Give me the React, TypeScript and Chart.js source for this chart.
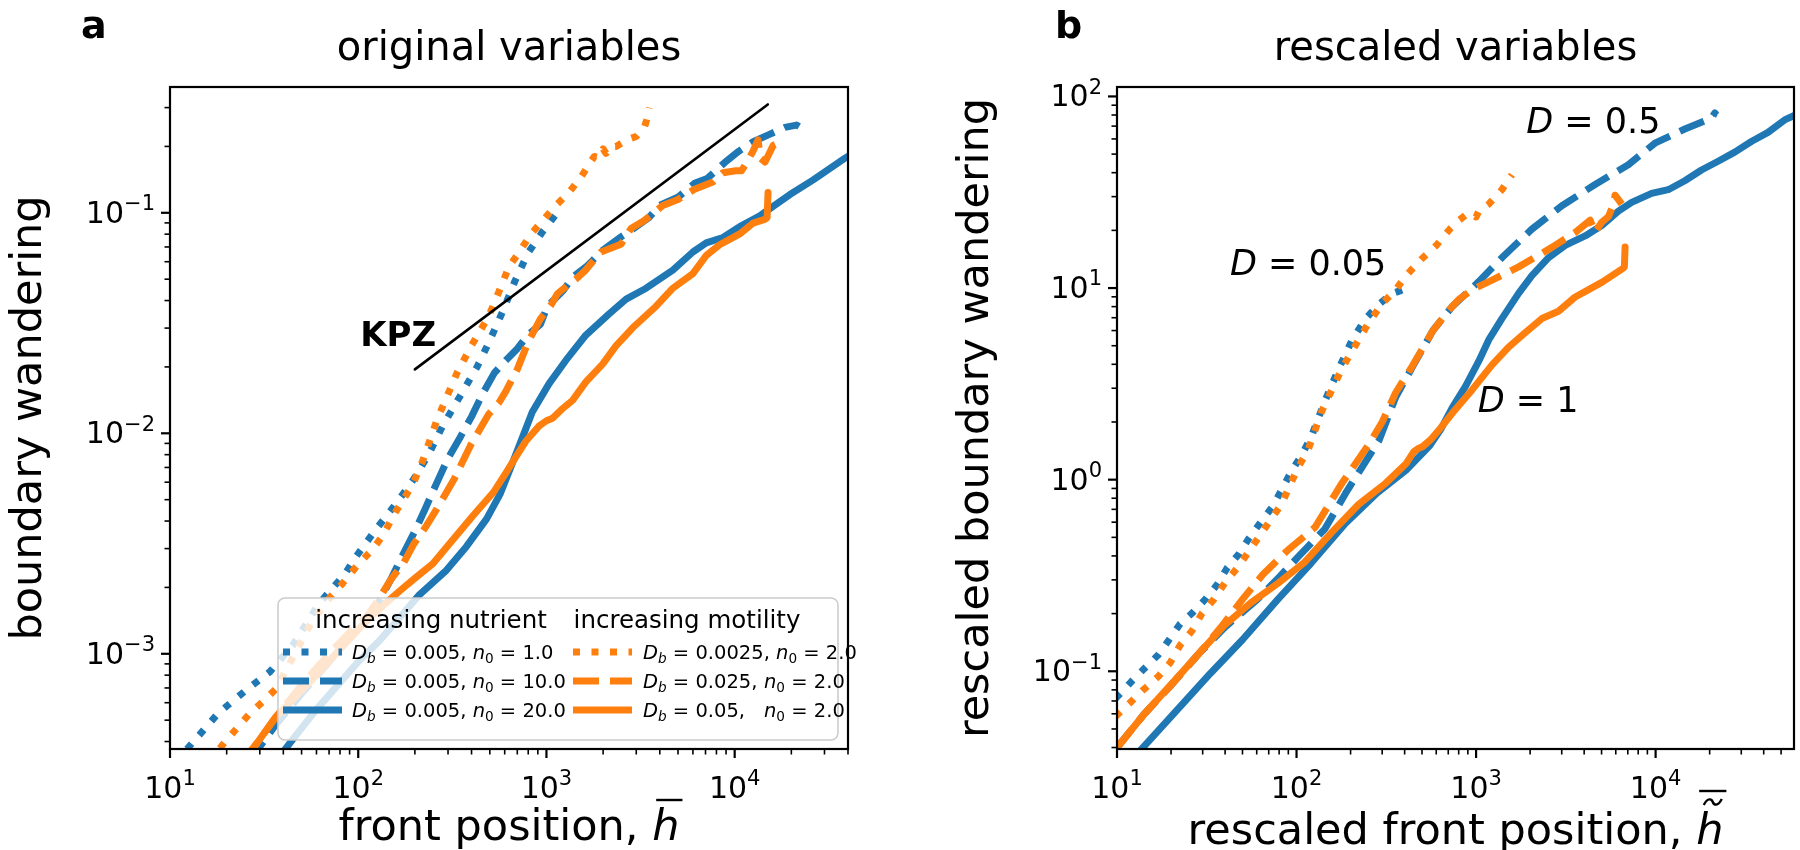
import React, { useEffect, useRef } from 'react';
import { Chart, registerables } from 'chart.js';

Chart.register(...registerables);

const BLUE = '#1f77b4';
const ORANGE = '#ff7f0e';
const FAM = '"DejaVu Sans", "Liberation Sans", sans-serif';
const LW = 7;
const DOT = [7, 11.5];
const DASH = [26, 11];

// ---------------- panel a: original variables ----------------
const aDotBlueX = [10.6, 13.2, 18.1, 25.7, 34, 45.1, 61.9, 84.9, 97.7, 120.7, 160, 197, 235, 281, 347, 428, 493, 588, 680, 800, 953, 1130];
const aDotBlueY = [3.2e-4, 3.96e-4, 5.39e-4, 6.91e-4, 8.3e-4, 1.1e-3, 1.69e-3, 2.3e-3, 2.77e-3, 3.55e-3, 4.84e-3, 6.19e-3, 7.93e-3, 1.08e-2, 1.47e-2, 2.0e-2, 2.57e-2, 3.6e-2, 0.049, 0.066, 0.082, 0.099];

const aDotOrangeX = [16, 19.4, 22.5, 26.5, 31.2, 36.8, 46, 57, 72.6, 82, 100, 119, 134.5, 158, 195, 220, 262, 335, 400, 493, 560, 632, 714, 826, 953, 1122, 1321, 1524, 1795, 1900, 2000, 2072, 2200, 2344, 2705, 3000, 3315, 3400, 3525];
const aDotOrangeY = [3.2e-4, 3.95e-4, 4.56e-4, 5.36e-4, 6.08e-4, 6.97e-4, 1.0e-3, 1.41e-3, 1.85e-3, 2.07e-3, 2.55e-3, 2.97e-3, 3.42e-3, 4.4e-3, 5.86e-3, 7.5e-3, 0.0115, 0.0188, 0.025, 0.0339, 0.044, 0.057, 0.066, 0.08, 0.092, 0.108, 0.124, 0.145, 0.18, 0.178, 0.195, 0.186, 0.2, 0.2, 0.215, 0.222, 0.245, 0.262, 0.3];

const aDashBlueX = [26, 36, 50, 70, 100, 129, 150, 171, 200, 227, 260, 300, 347, 400, 460, 529, 607, 700, 800, 929, 1012, 1230, 1376, 1630, 1988, 2500, 2860, 3500, 3981, 5020, 6120, 7140, 8850, 10500, 12530, 15000, 18470, 21300, 22000];
const aDashBlueY = [3.2e-4, 4.7e-4, 6.6e-4, 9.2e-4, 1.3e-3, 1.72e-3, 2.2e-3, 2.77e-3, 3.6e-3, 4.55e-3, 5.9e-3, 7.7e-3, 9.55e-3, 0.0119, 0.0152, 0.0188, 0.0214, 0.0242, 0.028, 0.0312, 0.0377, 0.0445, 0.051, 0.057, 0.0676, 0.078, 0.084, 0.095, 0.108, 0.118, 0.136, 0.143, 0.169, 0.19, 0.21, 0.225, 0.244, 0.25, 0.246];

const aDashOrangeX = [24, 30, 38, 50, 70, 90, 112, 130, 149, 175, 197, 230, 262, 323, 399, 493, 560, 608, 700, 800, 929, 1054, 1146, 1300, 1433, 1600, 1948, 2485, 2812, 3296, 4150, 5000, 6120, 7660, 8670, 10140, 10860, 11540, 12500, 13310, 13700, 14500, 16000, 16600];
const aDashOrangeY = [3.2e-4, 4.1e-4, 5.4e-4, 7.2e-4, 1.0e-3, 1.25e-3, 1.49e-3, 1.8e-3, 2.17e-3, 2.6e-3, 3.14e-3, 3.8e-3, 4.55e-3, 6.19e-3, 8.97e-3, 0.0122, 0.0138, 0.0155, 0.0195, 0.026, 0.033, 0.038, 0.043, 0.047, 0.05, 0.0545, 0.0664, 0.072, 0.0848, 0.092, 0.108, 0.115, 0.128, 0.138, 0.152, 0.155, 0.155, 0.168, 0.19, 0.214, 0.177, 0.17, 0.202, 0.205];

const aSolidBlueX = [36, 45, 60, 80, 100, 130, 158, 211, 294, 376, 481, 567, 687, 841, 1033, 1267, 1620, 2160, 2650, 3385, 4693, 5998, 7060, 8665, 10640, 13600, 15380, 19650, 26140, 38550, 42000];
const aSolidBlueY = [3.2e-4, 4.1e-4, 5.6e-4, 7.4e-4, 9.2e-4, 1.15e-3, 1.39e-3, 1.85e-3, 2.39e-3, 3.07e-3, 4.09e-3, 5.3e-3, 8.0e-3, 0.0125, 0.0168, 0.0214, 0.0279, 0.0349, 0.0406, 0.0455, 0.055, 0.0664, 0.073, 0.0773, 0.0865, 0.0968, 0.1045, 0.121, 0.141, 0.177, 0.185];

const aSolidOrangeX = [24.5, 30, 36, 45, 60, 80, 109, 135, 165, 200, 249, 319, 408, 523, 608, 700, 776, 915, 1000, 1077, 1200, 1376, 1620, 1988, 2340, 2872, 3825, 4693, 5998, 7060, 8320, 10640, 12530, 14450, 14870, 15040];
const aSolidOrangeY = [3.2e-4, 4.1e-4, 5.1e-4, 6.2e-4, 8.0e-4, 1.05e-3, 1.39e-3, 1.65e-3, 1.92e-3, 2.2e-3, 2.56e-3, 3.3e-3, 4.24e-3, 5.4e-3, 6.6e-3, 8.0e-3, 9.2e-3, 0.0108, 0.0114, 0.0117, 0.0128, 0.0141, 0.0171, 0.0206, 0.0249, 0.0301, 0.0377, 0.0455, 0.053, 0.064, 0.0716, 0.0802, 0.0898, 0.0933, 0.095, 0.1236];

const kpzX = [200, 15000];
const kpzY = [0.0195, 0.31];

// ---------------- panel b: rescaled variables ----------------
const bDotBlueX = [9.8, 12.0, 14.3, 17.0, 19.8, 22.5, 26.2, 31.1, 36.2, 41.2, 48.0, 54.6, 63.5, 73.9, 82.4, 93.8, 106.7, 121, 144, 172, 204, 243, 288, 343, 380, 398];
const bDotBlueY = [0.072, 0.0881, 0.104, 0.122, 0.149, 0.177, 0.201, 0.238, 0.284, 0.348, 0.412, 0.498, 0.603, 0.728, 0.881, 1.11, 1.34, 1.68, 2.58, 3.8, 5.36, 6.93, 8.24, 9.38, 9.7, 9.87];

const bDotOrangeX = [9.8, 11.8, 14.0, 17.0, 19.8, 22.5, 26.2, 29.8, 34.7, 40.4, 47.0, 62.2, 82.4, 102, 116, 138, 179, 250, 300, 357, 407, 494, 601, 714, 800, 910, 1000, 1035, 1176, 1393, 1585];
const bDotOrangeY = [0.058, 0.0684, 0.08, 0.094, 0.111, 0.137, 0.163, 0.201, 0.238, 0.294, 0.348, 0.508, 0.744, 1.16, 1.43, 2.27, 3.8, 6.5, 8.3, 9.8, 11.6, 14.1, 16.7, 20.3, 22.5, 24.7, 23.5, 25.2, 27.4, 32.6, 39];

const bDashBlueX = [9.8, 14, 20, 28, 40, 60.8, 80, 102, 144, 187, 230, 288, 357, 444, 575, 736, 1035, 1393, 2046, 3006, 4603, 7050, 9910, 14550, 20460, 21380, 21800];
const bDashBlueY = [0.039, 0.059, 0.0845, 0.121, 0.17, 0.238, 0.31, 0.395, 0.554, 0.845, 1.15, 1.6, 2.7, 3.9, 6.0, 8.0, 10.8, 14.4, 20.3, 26.9, 34.7, 44.0, 57.0, 67.6, 76.9, 82, 80];

const bDashOrangeX = [9.8, 14, 20, 28, 37.8, 50.1, 64.9, 89.7, 127, 179, 253, 300, 357, 444, 575, 700, 800, 950, 1227, 1726, 2643, 3563, 4318, 4603, 5000, 5460, 5800, 5946, 6200, 6476];
const bDashOrangeY = [0.039, 0.059, 0.0845, 0.121, 0.169, 0.238, 0.32, 0.43, 0.565, 0.959, 1.53, 2.0, 2.85, 3.95, 6.0, 7.6, 8.7, 9.8, 11.0, 12.9, 16.3, 19.5, 22.6, 19.5, 22.0, 23.6, 27, 30.5, 29, 27.4];

const bSolidBlueX = [13.2, 20, 33.3, 50, 78.9, 120, 187, 280, 407, 551, 640, 736, 873, 1035, 1176, 1393, 1725, 2046, 2533, 3137, 4050, 5012, 6204, 7356, 9500, 11760, 14550, 18010, 22300, 27600, 34140, 42270, 52300, 60000];
const bSolidBlueY = [0.0378, 0.058, 0.098, 0.146, 0.238, 0.365, 0.59, 0.85, 1.12, 1.5, 1.85, 2.37, 3.07, 4.15, 5.36, 6.93, 9.38, 11.6, 14.4, 16.7, 18.7, 21.2, 25.2, 28.0, 31.2, 32.6, 36.3, 41.3, 45.9, 51.2, 58.2, 64.9, 75.4, 80];

const bSolidOrangeX = [9.8, 14.0, 19.8, 28.0, 39.5, 55.8, 78.9, 111, 157, 222, 314, 407, 450, 480, 505, 560, 640, 736, 950, 1227, 1518, 1879, 2326, 2878, 3563, 4045, 5012, 5946, 6607, 6700, 6760];
const bSolidOrangeY = [0.039, 0.059, 0.0845, 0.121, 0.173, 0.228, 0.288, 0.371, 0.531, 0.744, 0.959, 1.21, 1.4, 1.46, 1.49, 1.62, 1.88, 2.22, 2.94, 3.97, 4.92, 5.85, 6.93, 7.57, 8.98, 9.57, 10.7, 11.9, 12.7, 12.9, 16.4];

// ---------------- legend text ----------------
const legendTitles = ['increasing nutrient', 'increasing motility'];
const nutrientDb = ['0.005', '0.005', '0.005'];
const nutrientN0 = ['1.0', '10.0', '20.0'];
const motilityDb = ['0.0025', '0.025', '0.05'];
const motilityN0 = ['2.0', '2.0', '2.0'];

type Run = { t: string; font: string; dy?: number };

function font(size: number, style = ''): string {
  return `${style ? style + ' ' : ''}${size}px ${FAM}`;
}

function runsWidth(ctx: CanvasRenderingContext2D, runs: Run[]): number {
  let w = 0;
  for (const r of runs) {
    ctx.font = r.font;
    w += ctx.measureText(r.t).width;
  }
  return w;
}

function drawRuns(ctx: CanvasRenderingContext2D, runs: Run[], x: number, y: number, align: 'left' | 'center' | 'right' = 'left'): number[] {
  const w = runsWidth(ctx, runs);
  let cx = align === 'left' ? x : align === 'center' ? x - w / 2 : x - w;
  ctx.textAlign = 'left';
  ctx.textBaseline = 'alphabetic';
  const starts: number[] = [];
  for (const r of runs) {
    ctx.font = r.font;
    starts.push(cx);
    ctx.fillText(r.t, cx, y + (r.dy || 0));
    cx += ctx.measureText(r.t).width;
  }
  starts.push(cx);
  return starts;
}

function pow10Runs(e: number, size: number): Run[] {
  const sup = e < 0 ? '\u2212' + String(-e) : String(e);
  return [
    { t: '10', font: font(size) },
    { t: sup, font: font(size * 0.7), dy: -size * 0.42 },
  ];
}

function eqRuns(sym: string, sub: string, val: string, size: number): Run[] {
  const runs: Run[] = [{ t: sym, font: font(size, 'italic') }];
  if (sub) runs.push({ t: sub, font: font(size * 0.7, /[0-9]/.test(sub) ? '' : 'italic'), dy: size * 0.22 });
  runs.push({ t: ' = ' + val, font: font(size) });
  return runs;
}

function pts(xs: number[], ys: number[]) {
  return xs.map((x, i) => ({ x, y: ys[i] }));
}

function ds(label: string, xs: number[], ys: number[], color: string, dash: number[], order: number, width = LW) {
  return {
    label,
    data: pts(xs, ys),
    borderColor: color,
    backgroundColor: color,
    borderWidth: width,
    borderDash: dash,
    borderCapStyle: dash.length ? 'butt' : 'round',
    borderJoinStyle: 'round',
    pointRadius: 0,
    pointHoverRadius: 0,
    tension: 0,
    fill: false,
    order,
  };
}

type Annot = { x: number; y: number; runs: Run[] };

type Panel = {
  offset: number;
  letter: string;
  letterX: number;
  title: string;
  yLabel: string;
  yLabelX: number;
  xPrefix: string;
  tilde: boolean;
  xLabelY: number;
  annots: Annot[];
  legend: boolean;
};

const TICK_FS = 30;

function drawLegend(ctx: CanvasRenderingContext2D, off: number) {
  const x0 = 278 - off, y0 = 598, w = 560, h = 142;
  ctx.save();
  ctx.setLineDash([]);
  ctx.beginPath();
  (ctx as any).roundRect(x0, y0, w, h, 7);
  ctx.fillStyle = 'rgba(255,255,255,0.8)';
  ctx.fill();
  ctx.strokeStyle = '#cccccc';
  ctx.lineWidth = 1.6;
  ctx.stroke();

  ctx.fillStyle = '#000';
  ctx.font = font(24.5);
  ctx.textAlign = 'center';
  ctx.textBaseline = 'alphabetic';
  ctx.fillText(legendTitles[0], 431 - off, 628);
  ctx.fillText(legendTitles[1], 687 - off, 628);

  const rowsY = [652, 681, 710];
  const styles = [DOT, DASH, [] as number[]];
  const fs = 19.5;
  for (let i = 0; i < 3; i++) {
    const cy = rowsY[i];
    ctx.lineWidth = LW;
    ctx.lineCap = 'butt';
    ctx.setLineDash(styles[i]);
    ctx.strokeStyle = BLUE;
    ctx.beginPath();
    ctx.moveTo(283 - off, cy);
    ctx.lineTo(342 - off, cy);
    ctx.stroke();
    ctx.strokeStyle = ORANGE;
    ctx.beginPath();
    ctx.moveTo(573 - off, cy);
    ctx.lineTo(632 - off, cy);
    ctx.stroke();
    ctx.setLineDash([]);
    ctx.fillStyle = '#000';
    const r1: Run[] = [...eqRuns('D', 'b', nutrientDb[i], fs), { t: ', ', font: font(fs) }, ...eqRuns('n', '0', nutrientN0[i], fs)];
    drawRuns(ctx, r1, 352 - off, cy + 7, 'left');
    const r2a: Run[] = [...eqRuns('D', 'b', motilityDb[i], fs), { t: ', ', font: font(fs) }];
    const st = drawRuns(ctx, r2a, 643 - off, cy + 7, 'left');
    const nx = Math.max(764 - off, st[st.length - 1]);
    drawRuns(ctx, eqRuns('n', '0', motilityN0[i], fs), nx, cy + 7, 'left');
  }
  ctx.restore();
}

function logTicks(min: number, max: number) {
  const out: { v: number; major: boolean; e: number }[] = [];
  for (let e = Math.floor(Math.log10(min)); e <= Math.ceil(Math.log10(max)); e++) {
    for (let m = 1; m <= 9; m++) {
      const v = m * Math.pow(10, e);
      if (v >= min * 0.9999 && v <= max * 1.0001) out.push({ v, major: m === 1, e });
    }
  }
  return out;
}

function makeDecor(p: Panel) {
  return {
    id: 'decor_' + p.letter,
    afterDraw(chart: any) {
      const ctx = chart.ctx as CanvasRenderingContext2D;
      const ca = chart.chartArea;
      const xs = chart.scales.x;
      const ys = chart.scales.y;
      const off = p.offset;
      ctx.save();
      ctx.setLineDash([]);
      ctx.fillStyle = '#000';
      ctx.strokeStyle = '#000';
      ctx.lineCap = 'butt';

      // annotations
      for (const a of p.annots) {
        const px = xs.getPixelForValue(a.x);
        const py = ys.getPixelForValue(a.y);
        drawRuns(ctx, a.runs, px, py + 12, 'center');
      }

      if (p.legend) drawLegend(ctx, off);

      // x ticks
      for (const t of logTicks(xs.min, xs.max)) {
        const px = xs.getPixelForValue(t.v);
        ctx.lineWidth = t.major ? 2.2 : 1.6;
        ctx.beginPath();
        ctx.moveTo(px, ca.bottom);
        ctx.lineTo(px, ca.bottom + (t.major ? 9 : 5.5));
        ctx.stroke();
        if (t.major) drawRuns(ctx, pow10Runs(t.e, TICK_FS), px, 798, 'center');
      }
      // y ticks
      for (const t of logTicks(ys.min, ys.max)) {
        const py = ys.getPixelForValue(t.v);
        ctx.lineWidth = t.major ? 2.2 : 1.6;
        ctx.beginPath();
        ctx.moveTo(ca.left, py);
        ctx.lineTo(ca.left - (t.major ? 9 : 5.5), py);
        ctx.stroke();
        if (t.major) drawRuns(ctx, pow10Runs(t.e, TICK_FS), ca.left - 15, py + 10, 'right');
      }

      // frame
      ctx.lineWidth = 2.2;
      ctx.strokeRect(ca.left, ca.top, ca.right - ca.left, ca.bottom - ca.top);

      const cx = (ca.left + ca.right) / 2;
      // title
      ctx.font = font(40);
      ctx.textAlign = 'center';
      ctx.textBaseline = 'alphabetic';
      ctx.fillText(p.title, cx, 60);

      // panel letter
      ctx.font = font(38, 'bold');
      ctx.textAlign = 'left';
      ctx.fillText(p.letter, p.letterX - off, 38);

      // y label
      ctx.save();
      ctx.translate(p.yLabelX - off, (ca.top + ca.bottom) / 2);
      ctx.rotate(-Math.PI / 2);
      ctx.font = font(43);
      ctx.textAlign = 'center';
      ctx.textBaseline = 'alphabetic';
      ctx.fillText(p.yLabel, 0, 0);
      ctx.restore();

      // x label with accented h
      const runs: Run[] = [{ t: p.xPrefix, font: font(43) }, { t: 'h', font: font(43, 'italic') }];
      const st = drawRuns(ctx, runs, cx, p.xLabelY, 'center');
      const hx0 = st[1];
      const hx1 = st[2];
      ctx.lineWidth = 2.4;
      if (p.tilde) {
        const tx = (hx0 + hx1) / 2 + 3;
        const ty = p.xLabelY - 42;
        ctx.beginPath();
        ctx.moveTo(tx - 9, ty + 3);
        ctx.bezierCurveTo(tx - 5, ty - 5, tx - 1, ty - 3, tx, ty);
        ctx.bezierCurveTo(tx + 1, ty + 3, tx + 5, ty + 5, tx + 9, ty - 3);
        ctx.stroke();
        ctx.beginPath();
        ctx.moveTo(hx0 + 3, p.xLabelY - 53);
        ctx.lineTo(hx1 + 3, p.xLabelY - 53);
        ctx.stroke();
      } else {
        ctx.beginPath();
        ctx.moveTo(hx0 + 4, p.xLabelY - 40);
        ctx.lineTo(hx1 + 3, p.xLabelY - 40);
        ctx.stroke();
      }
      ctx.restore();
    },
  };
}

const panelA: Panel = {
  offset: 0,
  letter: 'a',
  letterX: 81,
  title: 'original variables',
  yLabel: 'boundary wandering',
  yLabelX: 41,
  xPrefix: 'front position, ',
  tilde: false,
  xLabelY: 840,
  annots: [{ x: 163, y: 0.0282, runs: [{ t: 'KPZ', font: font(34, 'bold') }] }],
  legend: true,
};

const panelB: Panel = {
  offset: 900,
  letter: 'b',
  letterX: 1055,
  title: 'rescaled variables',
  yLabel: 'rescaled boundary wandering',
  yLabelX: 988,
  xPrefix: 'rescaled front position, ',
  tilde: true,
  xLabelY: 844,
  annots: [
    { x: 116, y: 13.5, runs: eqRuns('D', '', '0.05', 35) },
    { x: 4500, y: 74, runs: eqRuns('D', '', '0.5', 35) },
    { x: 1950, y: 2.6, runs: eqRuns('D', '', '1', 35) },
  ],
  legend: false,
};

function baseOptions(xmin: number, xmax: number, ymin: number, ymax: number, padding: any) {
  return {
    responsive: false,
    maintainAspectRatio: false,
    devicePixelRatio: 1,
    animation: false,
    events: [],
    layout: { padding },
    plugins: { legend: { display: false }, tooltip: { enabled: false }, title: { display: false } },
    scales: {
      x: { type: 'logarithmic', min: xmin, max: xmax, display: false },
      y: { type: 'logarithmic', min: ymin, max: ymax, display: false },
    },
  };
}

export default function App() {
  const leftRef = useRef<HTMLCanvasElement>(null);
  const rightRef = useRef<HTMLCanvasElement>(null);

  useEffect(() => {
    document.body.style.margin = '0';
    const left = new Chart(leftRef.current as HTMLCanvasElement, {
      type: 'line',
      data: {
        datasets: [
          ds('KPZ', kpzX, kpzY, '#000000', [], 0, 2.6),
          ds('Db=0.0025, n0=2.0', aDotOrangeX, aDotOrangeY, ORANGE, DOT, 1),
          ds('Db=0.025, n0=2.0', aDashOrangeX, aDashOrangeY, ORANGE, DASH, 1),
          ds('Db=0.05, n0=2.0', aSolidOrangeX, aSolidOrangeY, ORANGE, [], 1),
          ds('Db=0.005, n0=1.0', aDotBlueX, aDotBlueY, BLUE, DOT, 2),
          ds('Db=0.005, n0=10.0', aDashBlueX, aDashBlueY, BLUE, DASH, 2),
          ds('Db=0.005, n0=20.0', aSolidBlueX, aSolidBlueY, BLUE, [], 2),
        ] as any,
      },
      options: baseOptions(10, 40000, 3.7e-4, 0.372, { left: 170, top: 87, right: 52, bottom: 101 }) as any,
      plugins: [makeDecor(panelA)],
    });
    const right = new Chart(rightRef.current as HTMLCanvasElement, {
      type: 'line',
      data: {
        datasets: [
          ds('Db=0.0025, n0=2.0', bDotOrangeX, bDotOrangeY, ORANGE, DOT, 1),
          ds('Db=0.025, n0=2.0', bDashOrangeX, bDashOrangeY, ORANGE, DASH, 1),
          ds('Db=0.05, n0=2.0', bSolidOrangeX, bSolidOrangeY, ORANGE, [], 1),
          ds('Db=0.005, n0=1.0', bDotBlueX, bDotBlueY, BLUE, DOT, 2),
          ds('Db=0.005, n0=10.0', bDashBlueX, bDashBlueY, BLUE, DASH, 2),
          ds('Db=0.005, n0=20.0', bSolidBlueX, bSolidBlueY, BLUE, [], 2),
        ] as any,
      },
      options: baseOptions(10, 59000, 0.0393, 112, { left: 217, top: 87, right: 6, bottom: 101 }) as any,
      plugins: [makeDecor(panelB)],
    });
    return () => {
      left.destroy();
      right.destroy();
    };
  }, []);

  return (
    <div style={{ position: 'relative', width: 1800, height: 850, background: '#ffffff', overflow: 'hidden' }}>
      <canvas ref={leftRef} width={900} height={850} style={{ position: 'absolute', left: 0, top: 0, width: 900, height: 850 }} />
      <canvas ref={rightRef} width={900} height={850} style={{ position: 'absolute', left: 900, top: 0, width: 900, height: 850 }} />
    </div>
  );
}
